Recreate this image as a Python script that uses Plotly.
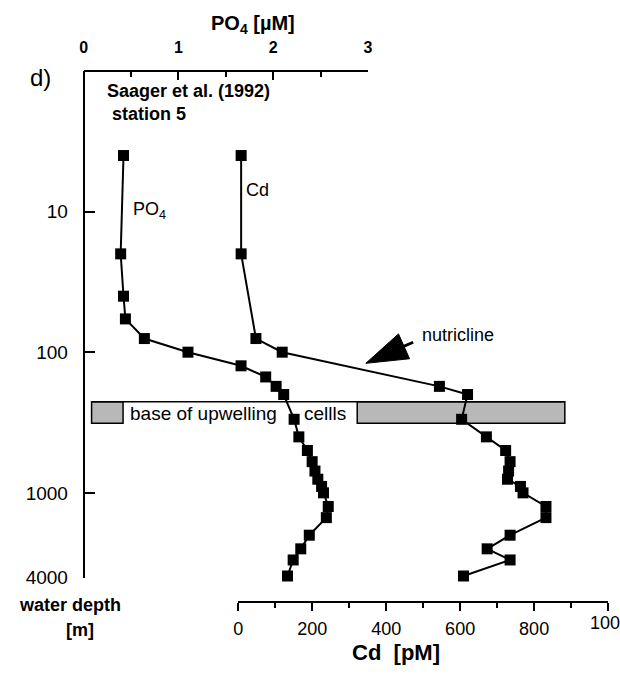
import numpy as np
import plotly.graph_objects as go

W, H = 620, 683

# Station 5 profiles (Saager et al., 1992)
po4_depth = [4, 20, 40, 58, 80, 100, 125, 150, 175, 200, 300, 400, 500, 600,
             700, 800, 900, 1000, 1250, 1500, 2000, 2500, 3000, 3900]
po4_um = [0.42, 0.39, 0.42, 0.44, 0.64, 1.10, 1.66, 1.92, 2.03, 2.11, 2.22, 2.27,
          2.36, 2.41, 2.44, 2.47, 2.51, 2.53, 2.58, 2.56, 2.38, 2.29, 2.21, 2.15]

cd_depth = [4, 20, 80, 100, 175, 200, 300, 400, 500, 600, 700, 800, 900, 1000,
            1250, 1500, 2000, 2500, 3000, 3900]
cd_pm = [8, 8, 48, 119, 544, 620, 604, 671, 723, 735, 731, 728, 763, 770,
         832, 832, 735, 673, 735, 609]

# Axis ticks
depth_ticks = [10, 100, 1000, 4000]
depth_labels = ["10", "100", "1000", "4000"]
depth_minor = [2, 3, 4, 5, 6, 7, 8, 9, 20, 30, 40, 50, 60, 70, 80, 90,
               200, 300, 400, 500, 600, 700, 800, 900, 2000, 3000]
po4_ticks = [0, 1, 2, 3]
cd_ticks = [0, 200, 400, 600, 800, 1000]
# the last Cd label runs off the right edge of the page
cd_labels = ["0", "200", "400", "600", "800", ""]
cd_edge_label = "100"

# Depth band marking the base of the upwelling cells
upwelling_top, upwelling_base = 225, 320

# Nutricline pointer (Cd units, depth in m)
pointer_cd = [473, 345]
pointer_depth = [85, 120]

FONT = "Liberation Sans, Arial, Helvetica, sans-serif"
DEPTH_RANGE = [np.log10(4000), 0]


def px(x):
    return x / W


def py(y):
    return 1 - y / H


fig = go.Figure()

marker = dict(symbol="square", size=11, color="black")
line = dict(color="black", width=2)

fig.add_trace(go.Scatter(x=po4_um, y=po4_depth, xaxis="x2", yaxis="y",
                         mode="lines+markers", line=line, marker=marker,
                         cliponaxis=False, showlegend=False, name="PO4"))
fig.add_trace(go.Scatter(x=cd_pm, y=cd_depth, xaxis="x", yaxis="y",
                         mode="lines+markers", line=line, marker=marker,
                         cliponaxis=False, showlegend=False, name="Cd"))
fig.add_trace(go.Scatter(x=pointer_cd, y=pointer_depth, xaxis="x", yaxis="y",
                         mode="lines+markers",
                         line=dict(color="black", width=3),
                         marker=dict(symbol=["circle", "arrow"], size=[0, 44],
                                     color="black", opacity=1,
                                     angleref="previous",
                                     line=dict(color="black", width=1)),
                         cliponaxis=False, showlegend=False,
                         hoverinfo="skip", name="nutricline"))

axis_common = dict(showgrid=False, zeroline=False, tickcolor="black",
                   tickwidth=1.5, tickmode="array")

fig.update_layout(
    width=W, height=H, autosize=False,
    margin=dict(l=0, r=0, t=0, b=0),
    paper_bgcolor="white", plot_bgcolor="rgba(0,0,0,0)",
    font=dict(family=FONT, color="black"),
    xaxis=dict(
        **axis_common, showline=True, linecolor="black", linewidth=2,
        domain=[px(237), px(613)], range=[0, 1000],
        anchor="free", position=py(612), side="bottom",
        tickvals=cd_ticks, ticktext=cd_labels,
        ticks="outside", ticklen=8, ticklabelstandoff=2,
        tickfont=dict(size=18, family=FONT),
        minor=dict(tickmode="linear", tick0=100, dtick=200, ticks="outside",
                   ticklen=5, tickwidth=1.5, tickcolor="black",
                   showgrid=False),
    ),
    xaxis2=dict(
        **axis_common, showline=True, linecolor="black", linewidth=2,
        domain=[px(80), px(369)], range=[0, 3],
        anchor="free", position=py(72), side="top",
        tickvals=po4_ticks, ticktext=[str(v) for v in po4_ticks],
        ticks="inside", ticklen=8, ticklabelstandoff=10,
        tickfont=dict(size=16, family=FONT, weight="bold"),
        minor=dict(tickmode="linear", tick0=0.5, dtick=1, ticks="inside",
                   ticklen=5, tickwidth=1.5, tickcolor="black",
                   showgrid=False),
    ),
    yaxis=dict(
        **axis_common, showline=True, linecolor="black", linewidth=2,
        type="log", range=DEPTH_RANGE,
        domain=[py(587), py(72)],
        anchor="free", position=px(80),
        tickvals=depth_ticks, ticktext=depth_labels,
        ticks="inside", ticklen=10, ticklabelstandoff=11,
        tickfont=dict(size=19, family=FONT),
    ),
    # Unlabelled overlay carrying the short intermediate depth ticks
    yaxis2=dict(
        **axis_common, showline=False,
        type="log", range=DEPTH_RANGE,
        domain=[py(587), py(72)],
        overlaying="y", anchor="free", position=px(80), side="left",
        tickvals=depth_minor, showticklabels=False,
        ticks="inside", ticklen=5,
    ),
)

# Base-of-upwelling band: two stippled patches joined by a top rule
band_fill = "#b8b8b8"
for xa, xb in [(88, 120), (358, 569)]:
    fig.add_shape(type="rect", xref="paper", yref="y",
                  x0=px(xa), x1=px(xb), y0=upwelling_top, y1=upwelling_base,
                  fillcolor=band_fill, line=dict(color="black", width=1.5),
                  layer="below")
fig.add_shape(type="line", xref="paper", yref="y",
              x0=px(88), x1=px(569), y0=upwelling_top, y1=upwelling_top,
              line=dict(color="black", width=1.5), layer="below")


def label(text, x, y, size, bold=False, xanchor="center"):
    fig.add_annotation(text=text, xref="paper", yref="paper",
                       x=px(x), y=py(y), xanchor=xanchor, yanchor="middle",
                       showarrow=False,
                       font=dict(size=size, family=FONT, color="black",
                                 weight="bold" if bold else "normal"))


label(cd_edge_label, 593, 633, 18, xanchor="left")
label("PO<sub>4</sub> [µM]", 252, 25, 20, bold=True)
label("Cd\u00a0 [pM]", 397, 663, 22, bold=True)
label("water depth", 66, 615, 18, bold=True)
label("[m]", 76, 640, 18, bold=True)
label("d)", 36, 79, 24)
label("Saager et al. (1992)", 102, 92, 18, bold=True, xanchor="left")
label("station 5", 107, 116, 18, bold=True, xanchor="left")
label("PO<sub>4</sub>", 128, 214, 18, xanchor="left")
label("Cd", 243, 193, 18, xanchor="left")
label("nutricline", 460, 340, 18)
label("base of upwelling", 125, 420, 19, xanchor="left")
label("cellls", 302, 420, 19, xanchor="left")

fig.write_html("out.html")
